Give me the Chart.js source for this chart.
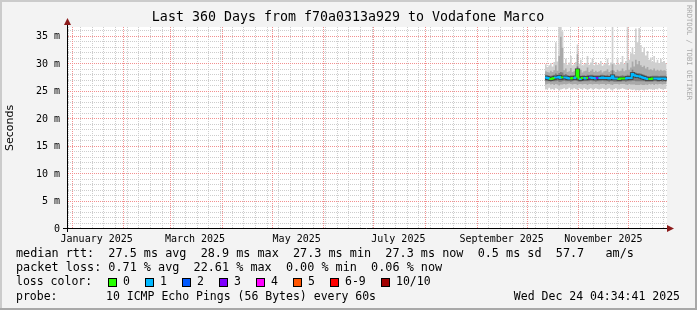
<!DOCTYPE html>
<html>
<head>
<meta charset="utf-8">
<script src="https://cdn.jsdelivr.net/npm/chart.js@4.4.1/dist/chart.umd.min.js"></script>
<style>
  html, body { margin: 0; padding: 0; background: #f3f3f3; }
  canvas { display: block; }
</style>
</head>
<body>
<canvas id="smoke" width="697" height="310"></canvas>
<script>
// x values are days since 1 Jan 2025
const axisStart = -2.81;   // 29 Dec 2024 04:34
const axisEnd = 357.19;    // 24 Dec 2025 04:34
const firstDay = 284;      // first day with data (12 Oct 2025), one value per day

const monthStarts = [0, 31, 59, 90, 120, 151, 181, 212, 243, 273, 304, 334];
const labelDays = [15, 74, 135, 196, 258, 319];
const monthLabels = ['January 2025', 'March 2025', 'May 2025', 'July 2025', 'September 2025', 'November 2025'];
const yMajor = [0, 5, 10, 15, 20, 25, 30, 35];
const yLabels = ['0', '5 m', '10 m', '15 m', '20 m', '25 m', '30 m', '35 m'];

// median rtt (ms)
const median = [
  27.6, 27.6, 27.5, 27.4, 27.3, 27.4, 27.5, 27.6, 27.6, 27.7,
  27.5, 27.6, 27.6, 27.6, 27.5, 27.4, 27.4, 27.5, 27.5, 27.6,
  28.9, 27.4, 27.3, 27.5, 27.5, 27.4, 27.5, 27.5, 27.6, 27.5,
  27.5, 27.4, 27.5, 27.5, 27.5, 27.6, 27.5, 27.5, 27.5, 27.4,
  27.5, 27.8, 27.4, 27.4, 27.4, 27.3, 27.4, 27.4, 27.4, 27.4,
  27.5, 27.5, 27.5, 28.2, 28.0, 27.9, 27.8, 27.8, 27.7, 27.6,
  27.5, 27.4, 27.3, 27.3, 27.3, 27.4, 27.4, 27.4, 27.4, 27.3,
  27.4, 27.4, 27.4, 27.3
];
// smoke: max / min of the pings
const smokeMax = [
  29.6, 30.0, 29.5, 29.8, 30.2, 29.6, 30.4, 34.0, 30.5, 37.5,
  37.5, 36.0, 30.2, 31.0, 29.9, 30.3, 31.5, 29.8, 30.0, 30.4,
  33.6, 30.1, 30.8, 29.7, 30.0, 30.2, 31.5, 29.9, 30.3, 31.0,
  29.8, 30.4, 29.9, 30.1, 30.6, 29.7, 30.0, 30.2, 31.0, 29.8,
  30.3, 37.5, 30.2, 29.9, 31.0, 30.0, 30.4, 31.5, 30.1, 30.6,
  36.8, 30.8, 32.0, 33.0, 31.8, 36.5, 34.0, 36.6, 33.5, 32.2,
  33.0, 31.6, 32.4, 30.8, 31.2, 30.4, 31.5, 30.3, 30.8, 30.2,
  31.0, 30.4, 30.6, 30.2
];
const smokeMin = [
  25.6, 25.4, 25.5, 25.7, 25.4, 25.5, 25.3, 25.6, 25.5, 25.2,
  25.4, 25.5, 25.6, 25.4, 25.5, 25.7, 25.5, 25.4, 25.6, 25.5,
  25.3, 25.6, 25.5, 25.4, 25.6, 25.5, 25.3, 25.5, 25.6, 25.4,
  25.5, 25.6, 25.5, 25.4, 25.5, 25.6, 25.5, 25.3, 25.5, 25.6,
  25.4, 25.2, 25.5, 25.6, 25.5, 25.4, 25.5, 25.6, 25.5, 25.4,
  25.3, 25.5, 25.4, 25.3, 25.4, 25.2, 25.3, 25.2, 25.4, 25.3,
  25.2, 25.4, 25.3, 25.5, 25.4, 25.5, 25.3, 25.5, 25.4, 25.6,
  25.5, 25.4, 25.5, 25.5
];
// middle smoke band
const midHigh = [
  28.5, 28.7, 28.6, 28.5, 28.8, 28.6, 28.9, 29.8, 28.8, 31.5,
  35.0, 33.0, 28.9, 29.2, 28.6, 28.7, 29.3, 28.6, 28.7, 28.9,
  31.8, 28.7, 29.0, 28.5, 28.7, 28.8, 29.4, 28.6, 28.8, 29.1,
  28.6, 28.8, 28.6, 28.7, 28.9, 28.5, 28.7, 28.8, 29.1, 28.6,
  28.8, 30.0, 28.8, 28.6, 29.0, 28.7, 28.8, 29.2, 28.7, 28.9,
  30.2, 29.0, 29.4, 30.5, 29.6, 30.8, 30.0, 30.6, 29.8, 29.5,
  29.7, 29.2, 29.5, 29.0, 29.1, 28.9, 29.2, 28.8, 29.0, 28.8,
  29.0, 28.8, 28.9, 28.8
];
const midLow = [
  26.4, 26.3, 26.4, 26.5, 26.3, 26.4, 26.2, 26.4, 26.3, 26.1,
  26.3, 26.3, 26.4, 26.3, 26.4, 26.5, 26.4, 26.3, 26.4, 26.4,
  26.2, 26.4, 26.4, 26.3, 26.4, 26.4, 26.2, 26.4, 26.4, 26.3,
  26.4, 26.4, 26.4, 26.3, 26.4, 26.4, 26.4, 26.2, 26.4, 26.4,
  26.3, 26.2, 26.4, 26.4, 26.4, 26.3, 26.4, 26.4, 26.4, 26.3,
  26.2, 26.4, 26.3, 26.3, 26.3, 26.2, 26.2, 26.2, 26.3, 26.2,
  26.2, 26.3, 26.2, 26.4, 26.3, 26.4, 26.2, 26.4, 26.3, 26.4,
  26.4, 26.3, 26.4, 26.4
];
// inner smoke band
const innerHigh = [
  28.0, 28.1, 28.0, 27.9, 27.9, 28.0, 28.1, 28.3, 28.1, 28.4,
  28.6, 28.5, 28.1, 28.2, 28.0, 27.9, 28.0, 28.0, 28.0, 28.1,
  29.6, 27.9, 27.9, 28.0, 28.0, 27.9, 28.1, 28.0, 28.1, 28.1,
  28.0, 28.0, 28.0, 28.0, 28.1, 28.1, 28.0, 28.0, 28.1, 27.9,
  28.0, 28.9, 27.9, 27.9, 27.9, 27.8, 27.9, 28.0, 27.9, 27.9,
  28.1, 28.0, 28.1, 29.0, 28.6, 28.5, 28.4, 28.4, 28.3, 28.2,
  28.1, 28.0, 27.8, 27.8, 27.8, 27.9, 27.9, 27.9, 27.9, 27.8,
  27.9, 27.9, 27.9, 27.9
];
const innerLow = [
  26.9, 26.9, 26.9, 26.9, 26.8, 26.9, 26.9, 26.9, 27.0, 26.8,
  26.8, 26.9, 27.0, 26.9, 26.9, 26.9, 26.8, 26.9, 27.0, 27.0,
  26.9, 26.8, 26.8, 26.9, 26.9, 26.9, 26.9, 26.9, 27.0, 26.9,
  26.9, 26.8, 26.9, 26.9, 26.9, 27.0, 26.9, 26.9, 26.9, 26.8,
  26.9, 26.9, 26.8, 26.8, 26.8, 26.8, 26.8, 26.9, 26.9, 26.8,
  26.9, 26.9, 26.9, 27.0, 27.0, 26.9, 26.9, 26.9, 26.9, 26.9,
  26.9, 26.8, 26.8, 26.8, 26.8, 26.8, 26.9, 26.9, 26.8, 26.8,
  26.9, 26.8, 26.9, 26.8
];
// lost pings out of 10, per day
const loss = [
  1, 1, 1, 0, 0, 0, 1, 1, 1, 1,
  0, 1, 1, 1, 1, 0, 0, 1, 1, 0,
  0, 1, 0, 1, 1, 0, 3, 1, 1, 1,
  1, 3, 1, 1, 1, 1, 1, 1, 1, 1,
  1, 1, 1, 1, 0, 0, 0, 0, 1, 1,
  1, 1, 1, 1, 1, 1, 1, 1, 1, 1,
  1, 1, 0, 0, 0, 1, 1, 1, 1, 1,
  1, 1, 1, 1
];
const lossNames = ['0', '1', '2', '3', '4', '5', '6-9', '10/10'];
const lossColors = ['#26ff00', '#00b8ff', '#0059ff', '#7e00ff', '#ff00ff', '#ff5500', '#ff0000', '#a10000'];
const lossBucket = n => n >= 10 ? 7 : n >= 6 ? 6 : n;

// grid: weekly (Mondays) minor lines, monthly major lines, 1 ms minor / 5 ms major
const mondays = [];
for (let d = -2; d < axisEnd; d += 7) mondays.push(d);
const yMinor = [];
for (let v = 1; v <= 36; v++) if (v % 5) yMinor.push(v);

const majorColor = '#f29090';
const minorColor = '#cdcdcd';

const pts = arr => arr.map((v, i) => ({ x: firstDay + i, y: v }));
const band = (arr, color, order, fillIt) => ({
  data: pts(arr), stepped: 'after', borderWidth: 0, borderColor: 'rgba(0,0,0,0)',
  pointRadius: 0, fill: fillIt ? '-1' : false, backgroundColor: color, order: order
});

const mono = '"DejaVu Sans Mono", monospace';

// dotted 1-on/1-off grid lines, pixel aligned like rrdtool
function dotGrid(chart) {
  const { ctx, chartArea: a, scales: { x, y } } = chart;
  const vLine = (v, color) => {
    const px = Math.round(x.getPixelForValue(v));
    if (px <= a.left || px >= a.right) return;
    ctx.fillStyle = color;
    for (let py = Math.ceil(a.top); py < a.bottom; py += 2) ctx.fillRect(px, py, 1, 1);
  };
  const hLine = (v, color) => {
    const py = Math.round(y.getPixelForValue(v)) - 1;
    if (py < a.top) return;
    ctx.fillStyle = color;
    for (let px = Math.ceil(a.left) + 1; px < a.right; px += 2) ctx.fillRect(px, py, 1, 1);
  };
  ctx.save();
  mondays.forEach(v => vLine(v, minorColor));
  yMinor.forEach(v => hLine(v, minorColor));
  monthStarts.forEach(v => vLine(v, majorColor));
  yMajor.forEach(v => { if (v) hLine(v, majorColor); });
  ctx.restore();
}

const rrdFrame = {
  id: 'rrdFrame',
  beforeDraw(chart) {
    const { ctx, chartArea: a, width, height } = chart;
    ctx.save();
    ctx.fillStyle = '#f3f3f3';
    ctx.fillRect(0, 0, width, height);
    ctx.fillStyle = '#cbcbcb';
    ctx.fillRect(0, 0, width, 2);
    ctx.fillRect(0, 0, 2, height);
    ctx.fillStyle = '#a8a8a8';
    ctx.fillRect(0, height - 2, width, 2);
    ctx.fillRect(width - 2, 0, 2, height);
    ctx.fillStyle = '#ffffff';
    ctx.fillRect(a.left, a.top, a.right - a.left, a.bottom - a.top);
    ctx.restore();
  },
  beforeDatasetsDraw(chart) {
    dotGrid(chart);
  },
  afterDatasetsDraw(chart) {
    const { ctx, chartArea: a } = chart;
    const x0 = a.left + 0.5, y0 = a.bottom - 0.5;
    ctx.save();
    ctx.strokeStyle = '#000';
    ctx.lineWidth = 1;
    ctx.beginPath();
    ctx.moveTo(a.left - 4, y0); ctx.lineTo(a.right + 3, y0);
    ctx.moveTo(x0, a.bottom + 3); ctx.lineTo(x0, a.top - 4);
    ctx.stroke();
    // arrows
    ctx.fillStyle = '#8c1c1c';
    ctx.beginPath();
    ctx.moveTo(x0, a.top - 9); ctx.lineTo(x0 - 3.5, a.top - 2); ctx.lineTo(x0 + 3.5, a.top - 2);
    ctx.closePath(); ctx.fill();
    ctx.beginPath();
    ctx.moveTo(a.right + 7, y0); ctx.lineTo(a.right, y0 - 3.5); ctx.lineTo(a.right, y0 + 3.5);
    ctx.closePath(); ctx.fill();
    ctx.restore();
  },
  afterDraw(chart) {
    const { ctx } = chart;
    ctx.save();
    ctx.fillStyle = '#000';
    ctx.textBaseline = 'middle';
    // title
    ctx.font = '13.3px ' + mono;
    ctx.textAlign = 'center';
    ctx.fillText('Last 360 Days from f70a0313a929 to Vodafone Marco', 348, 18);
    // legend
    ctx.textAlign = 'left';
    ctx.font = '11.8px ' + mono;
    ctx.fillText('median rtt:  27.5 ms avg  28.9 ms max  27.3 ms min  27.3 ms now  0.5 ms sd  57.7   am/s', 16, 254);
    ctx.fillText('packet loss: 0.71 % avg  22.61 % max  0.00 % min  0.06 % now', 16, 268);
    ctx.font = '11.5px ' + mono;
    ctx.fillText('loss color:', 16, 282.5);
    const swX = [108, 145, 182, 219, 256, 293, 330, 381];
    lossNames.forEach((name, i) => {
      ctx.fillStyle = lossColors[i];
      ctx.fillRect(swX[i], 278, 9, 9);
      ctx.strokeStyle = '#000';
      ctx.lineWidth = 1;
      ctx.strokeRect(swX[i] + 0.5, 278.5, 8, 8);
      ctx.fillStyle = '#000';
      ctx.fillText(name, swX[i] + 15, 282.5);
    });
    ctx.fillText('probe:       10 ICMP Echo Pings (56 Bytes) every 60s', 16, 297);
    ctx.textAlign = 'right';
    ctx.fillText('Wed Dec 24 04:34:41 2025', 680, 297);
    // y title
    ctx.font = '11px "DejaVu Sans", sans-serif';
    ctx.textAlign = 'center';
    ctx.translate(10, 128);
    ctx.rotate(-Math.PI / 2);
    ctx.fillText('Seconds', 0, 0);
    ctx.restore();
    // watermark
    ctx.save();
    ctx.fillStyle = '#aaaaaa';
    ctx.font = '7.2px ' + mono;
    ctx.textBaseline = 'middle';
    ctx.textAlign = 'left';
    ctx.translate(689, 5);
    ctx.rotate(Math.PI / 2);
    ctx.fillText('RRDTOOL / TOBI OETIKER', 0, 0);
    ctx.restore();
  }
};

new Chart(document.getElementById('smoke'), {
  type: 'line',
  data: {
    datasets: [
      band(smokeMin, 'rgba(0,0,0,0)', 10, false),
      band(smokeMax, '#cfcfcf', 9, true),
      band(midLow, 'rgba(0,0,0,0)', 8, false),
      band(midHigh, '#a9a9a9', 7, true),
      band(innerLow, 'rgba(0,0,0,0)', 6, false),
      band(innerHigh, '#7c7c7c', 5, true),
      {
        data: pts(median), stepped: 'after', pointRadius: 0, fill: false,
        borderColor: '#3a3a3a', borderWidth: 3.5, order: 4
      },
      {
        data: pts(median), stepped: 'after', pointRadius: 0, fill: false, borderWidth: 2, order: 3,
        borderColor: lossColors[1],
        segment: { borderColor: c => lossColors[lossBucket(loss[c.p0DataIndex])] }
      }
    ]
  },
  options: {
    responsive: false,
    animation: false,
    devicePixelRatio: 1,
    layout: { padding: { top: 27, right: 30, bottom: 0, left: 0 }, autoPadding: false },
    plugins: { legend: { display: false }, tooltip: { enabled: false }, title: { display: false } },
    elements: { point: { radius: 0 }, line: { tension: 0 } },
    scales: {
      x: {
        type: 'linear',
        min: axisStart,
        max: axisEnd,
        afterBuildTicks: s => { s.ticks = labelDays.map(v => ({ value: v })); },
        afterFit: s => { s.height = 81; },
        ticks: {
          autoSkip: false, maxRotation: 0, minRotation: 0, padding: 4,
          font: { family: mono, size: 10 }, color: '#000',
          callback: (v, i) => monthLabels[i]
        },
        grid: { display: false, drawTicks: false },
        border: { display: false }
      },
      y: {
        min: 0,
        max: 36.77,
        afterBuildTicks: s => { s.ticks = yMajor.map(v => ({ value: v })); },
        afterFit: s => { s.width = 67; },
        ticks: {
          autoSkip: false, padding: 7,
          font: { family: mono, size: 10 }, color: '#000',
          callback: (v, i) => yLabels[i]
        },
        grid: { display: false, drawTicks: false },
        border: { display: false }
      }
    }
  },
  plugins: [rrdFrame]
});
</script>
</body>
</html>
